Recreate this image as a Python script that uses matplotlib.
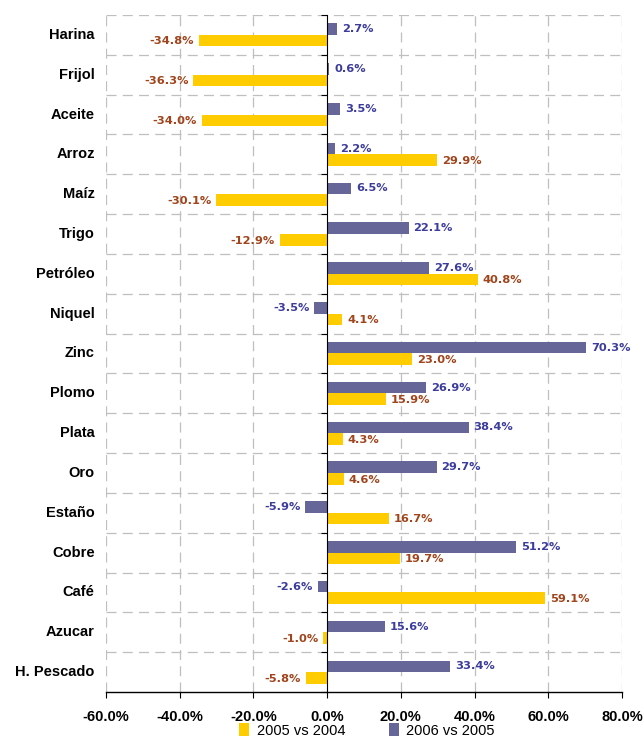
import matplotlib
matplotlib.use("Agg")
import matplotlib.pyplot as plt
import matplotlib.transforms as mtransforms
import numpy as np

plt.rcParams['font.family'] = ['Liberation Sans', 'DejaVu Sans']

categories = ["Harina", "Frijol", "Aceite", "Arroz", "Maíz", "Trigo", "Petróleo",
              "Niquel", "Zinc", "Plomo", "Plata", "Oro", "Estaño", "Cobre",
              "Café", "Azucar", "H. Pescado"]
v2006 = [2.7, 0.6, 3.5, 2.2, 6.5, 22.1, 27.6, -3.5, 70.3, 26.9, 38.4, 29.7,
         -5.9, 51.2, -2.6, 15.6, 33.4]
v2005 = [-34.8, -36.3, -34.0, 29.9, -30.1, -12.9, 40.8, 4.1, 23.0, 15.9, 4.3,
         4.6, 16.7, 19.7, 59.1, -1.0, -5.8]
xticks = [-60, -40, -20, 0, 20, 40, 60, 80]

yellow = "#FFCC00"
purple = "#666699"
c_yellow_txt = "#A0441C"
c_purple_txt = "#3C3C9C"

fig = plt.figure(figsize=(6.44, 7.41), dpi=100)
ax = fig.add_axes([0.1646, 0.0661, 0.8012, 0.9137])

y = np.arange(len(categories))
h = 0.29
ax.barh(y - h / 2, v2006, height=h, color=purple, zorder=3, label="2006 vs 2005")
ax.barh(y + h / 2, v2005, height=h, color=yellow, zorder=3, label="2005 vs 2004")

ax.set_xlim(-60, 80)
ax.set_ylim(len(categories) - 0.5, -0.5)

# dashed grid
for xv in xticks:
    if xv != 0:
        ax.axvline(xv, color="#BFBFBF", lw=0.9, ls=(0, (8, 5)), zorder=1)
for b in np.arange(-0.5, len(categories) - 0.5):
    ax.axhline(b, color="#BFBFBF", lw=0.9, ls=(0, (8, 5)), zorder=1)

ax.spines['top'].set_visible(False)
ax.spines['right'].set_visible(False)
ax.spines['left'].set_position(('data', 0))
ax.spines['left'].set_zorder(4)
ax.spines['bottom'].set_linewidth(1.0)
ax.set_yticks(np.arange(-0.5, len(categories) + 0.5))
ax.set_yticklabels([])
ax.tick_params(axis='y', direction='out', length=4, width=0.8)
ax.set_xticks(xticks)
ax.set_xticklabels([f"{t:.1f}%" for t in xticks], fontweight='bold', fontsize=10.5)
ax.tick_params(axis='x', direction='out', length=4, width=0.8, pad=9)

trans = mtransforms.blended_transform_factory(ax.transAxes, ax.transData)
for i, c in enumerate(categories):
    ax.text(-0.022, i, c, transform=trans, ha='right', va='center',
            fontweight='bold', fontsize=10.5)

off = 1.3
for i in range(len(categories)):
    for val, yy, col in ((v2006[i], y[i] - h / 2, c_purple_txt),
                         (v2005[i], y[i] + h / 2 + 0.02, c_yellow_txt)):
        if val >= 0:
            ax.text(val + off, yy, f"{val:.1f}%", ha='left', va='center',
                    color=col, fontweight='bold', fontsize=8.2,
                    family='DejaVu Sans', zorder=5)
        else:
            ax.text(val - off, yy, f"{val:.1f}%", ha='right', va='center',
                    color=col, fontweight='bold', fontsize=8.2,
                    family='DejaVu Sans', zorder=5)

handles, labels = ax.get_legend_handles_labels()
fig.legend(handles[::-1], labels[::-1], loc='lower center', ncol=2, frameon=False,
           bbox_to_anchor=(0.57, -0.013), fontsize=10.5, handlelength=0.7,
           handleheight=1.0, columnspacing=3.0, handletextpad=0.5)

fig.savefig("out.png", dpi=100)
